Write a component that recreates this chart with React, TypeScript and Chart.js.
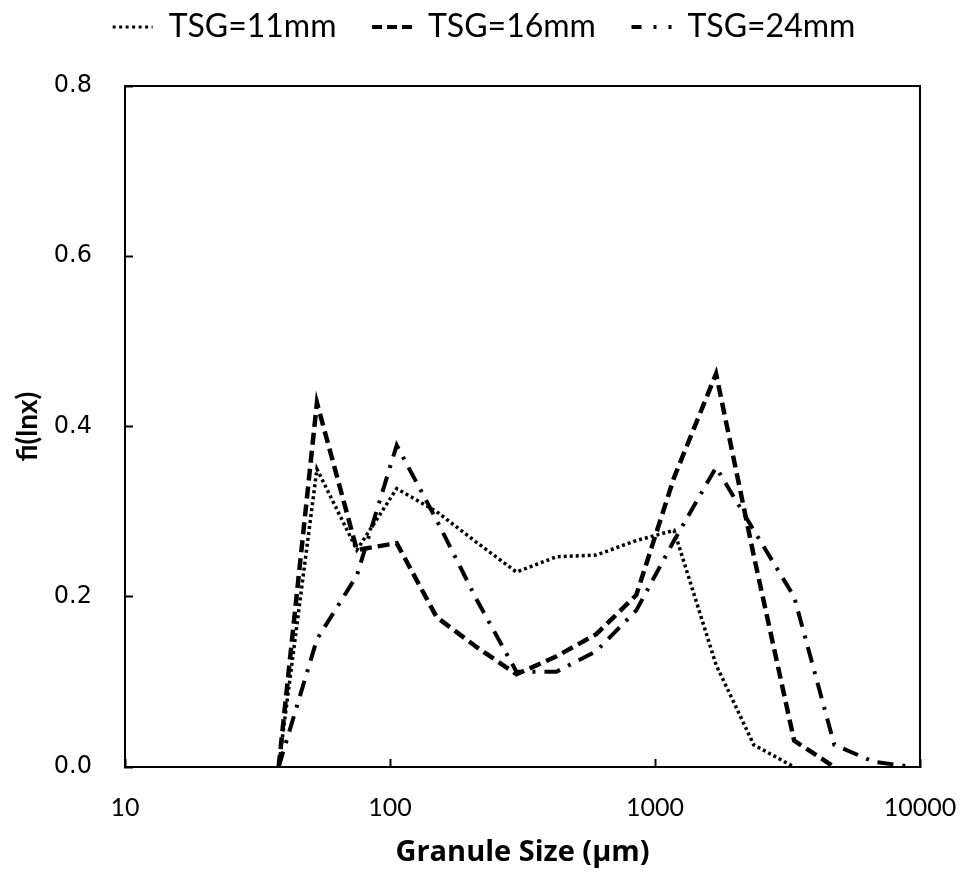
import React, { useEffect, useRef } from "react";
import { Chart, registerables } from "chart.js";

Chart.register(...registerables);

// Sieve sizes (µm) and distribution values
const sizes = [38, 53, 75, 106, 150, 212, 300, 425, 600, 850, 1180, 1700, 2360, 3350, 4750, 6700, 9500];
const tsg11 = [0, 0.35, 0.255, 0.327, 0.3, 0.264, 0.229, 0.247, 0.249, 0.266, 0.278, 0.12, 0.026, 0];
const tsg16 = [0, 0.428, 0.255, 0.263, 0.176, 0.141, 0.109, 0.13, 0.156, 0.202, 0.34, 0.462, 0.248, 0.031, 0];
const tsg24 = [0, 0.15, 0.225, 0.378, 0.29, 0.197, 0.112, 0.112, 0.136, 0.184, 0.266, 0.352, 0.278, 0.2, 0.026, 0.006, 0];
const seriesLabels = ["TSG=11mm", "TSG=16mm", "TSG=24mm"];
const xTickValues = [10, 100, 1000, 10000];
const xTickLabels = ["10", "100", "1000", "10000"];
const yMin = 0;
const yMax = 0.8;
const yStep = 0.2;
const xTitle = "Granule Size (μm)";
const yTitle = "fi(lnx)";

const toPoints = (vals: number[]) => vals.map((v, i) => ({ x: sizes[i], y: v }));

const framePlugin = {
  id: "frame",
  afterDraw(chart: any) {
    const { ctx, chartArea } = chart;
    ctx.save();
    ctx.strokeStyle = "#000";
    ctx.lineWidth = 2;
    ctx.setLineDash([]);
    ctx.strokeRect(chartArea.left, chartArea.top, chartArea.right - chartArea.left, chartArea.bottom - chartArea.top);
    ctx.restore();
  },
};

export default function App() {
  const ref = useRef<HTMLCanvasElement | null>(null);

  useEffect(() => {
    document.body.style.margin = "0";
    const canvas = ref.current;
    if (!canvas) return;
    Chart.defaults.font.family = "Lato";
    const chart = new Chart(canvas, {
      type: "line",
      data: {
        datasets: [
          {
            label: seriesLabels[0],
            data: toPoints(tsg11),
            borderColor: "#000",
            borderWidth: 3.5,
            borderDash: [3, 3],
            pointRadius: 0,
            tension: 0,
            fill: false,
          },
          {
            label: seriesLabels[1],
            data: toPoints(tsg16),
            borderColor: "#000",
            borderWidth: 4.5,
            borderDash: [12, 6],
            pointRadius: 0,
            tension: 0,
            fill: false,
          },
          {
            label: seriesLabels[2],
            data: toPoints(tsg24),
            borderColor: "#000",
            borderWidth: 4,
            borderDash: [16, 9, 3, 9],
            pointRadius: 0,
            tension: 0,
            fill: false,
          },
        ],
      },
      options: {
        responsive: false,
        animation: false,
        layout: { padding: { left: 0, right: 0, top: 0, bottom: 0 } },
        plugins: {
          tooltip: { enabled: false },
          title: {
            display: true,
            text: " ",
            position: "top",
            weight: 500,
            font: { size: 10 },
            padding: { top: 10, bottom: 11 },
          } as any,
          legend: {
            display: true,
            position: "top",
            labels: {
              usePointStyle: true,
              pointStyle: "line",
              pointStyleWidth: 40,
              color: "#000",
              padding: 11,
              font: { family: "Lato", size: 32 },
              generateLabels: (c: any) => {
                const items = (Chart.defaults.plugins.legend.labels as any).generateLabels(c);
                const legendDash = [[3, 3.5], [10, 5], [10, 12, 3, 12]];
                const legendWidth = [3, 4, 4];
                return items.map((it: any, i: number) => ({
                  ...it,
                  lineDash: legendDash[i],
                  lineWidth: legendWidth[i],
                  lineCap: "butt",
                  text: i < items.length - 1 ? it.text + "   " : it.text,
                }));
              },
            },
          },
        },
        scales: {
          x: {
            type: "logarithmic",
            position: "bottom",
            min: xTickValues[0],
            max: xTickValues[xTickValues.length - 1],
            afterBuildTicks: (s: any) => {
              s.ticks = xTickValues.map((v) => ({ value: v }));
            },
            afterFit: (s: any) => {
              s.height = 109;
              s.paddingRight = 48;
              s.paddingLeft = 0;
            },
            ticks: {
              autoSkip: false,
              maxRotation: 0,
              color: "#000",
              padding: 34,
              font: { family: "Lato", size: 25 },
              callback: (v: any) => {
                const idx = xTickValues.indexOf(Number(v));
                return idx >= 0 ? xTickLabels[idx] : "";
              },
            },
            grid: {
              drawOnChartArea: false,
              drawTicks: true,
              tickLength: -8,
              tickColor: "#000",
              tickWidth: 2,
              color: "#000",
            },
            border: { display: true, color: "#000", width: 2 },
            title: {
              display: true,
              text: xTitle,
              color: "#000",
              font: { family: "Open Sans", size: 29, weight: "bold" },
              padding: { top: 0, bottom: 6 },
            },
          },
          y: {
            type: "linear",
            position: "left",
            min: yMin,
            max: yMax,
            afterFit: (s: any) => {
              s.width = 125;
            },
            ticks: {
              stepSize: yStep,
              color: "#000",
              padding: 41,
              font: { family: "DejaVu Sans", size: 24 },
              callback: (v: any) => Number(v).toFixed(1),
            },
            grid: {
              drawOnChartArea: false,
              drawTicks: true,
              tickLength: -8,
              tickColor: "#000",
              tickWidth: 2,
              color: "#000",
            },
            border: { display: true, color: "#000", width: 2 },
            title: {
              display: true,
              text: yTitle,
              color: "#000",
              font: { family: "Lato", size: 28, weight: "bold" },
              padding: { top: 11, bottom: 0 },
            },
          },
        },
      },
      plugins: [framePlugin],
    } as any);
    return () => chart.destroy();
  }, []);

  return (
    <div style={{ width: 968, height: 876, background: "#fff" }}>
      <canvas ref={ref} width={968} height={876} style={{ display: "block" }} />
    </div>
  );
}
